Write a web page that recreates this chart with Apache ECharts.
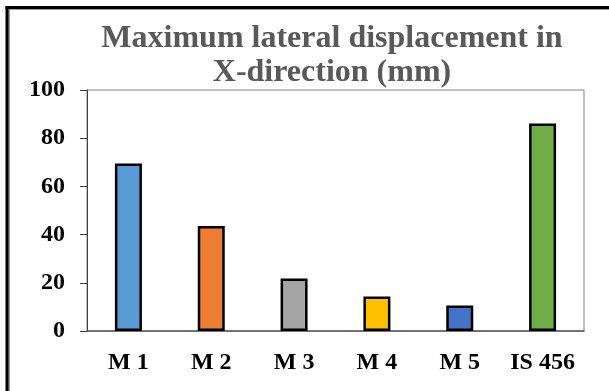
<!DOCTYPE html>
<html><head><meta charset="utf-8">
<script src="https://cdn.jsdelivr.net/npm/echarts@6/dist/echarts.min.js"></script>
<style>html,body{margin:0;padding:0;background:#fff}#c{width:609px;height:391px}</style>
</head><body><div id="c"></div>
<script>
const categories = ['M 1', 'M 2', 'M 3', 'M 4', 'M 5', 'IS 456'];
const values = [69.5, 43.6, 21.8, 14.3, 10.6, 86.1];
const barColors = ['#5B9BD5', '#ED7D31', '#A5A5A5', '#FFC000', '#4472C4', '#70AD47'];
const yTicks = { min: 0, max: 100, interval: 20 };
const titleText = 'Maximum lateral displacement in\nX-direction (mm)';

const chart = echarts.init(document.getElementById('c'), null, { renderer: 'canvas' });
const font = '"Liberation Serif", "Times New Roman", serif';
chart.setOption({
  animation: false,
  backgroundColor: '#fff',
  title: {
    text: titleText, left: 327, textAlign: 'center', top: 17,
    textStyle: { fontFamily: font, fontWeight: 'bold', fontSize: 32, color: '#595959', lineHeight: 34 }
  },
  grid: { left: 87, right: 25, top: 90, bottom: 60, show: true, borderColor: '#808080', borderWidth: 1 },
  xAxis: {
    type: 'category', data: categories,
    axisLine: { lineStyle: { color: '#595959', width: 1.5 } },
    axisTick: { show: false },
    axisLabel: { interval: 0, fontFamily: font, fontWeight: 'bold', fontSize: 24, color: '#000', margin: 20 }
  },
  yAxis: {
    type: 'value', min: yTicks.min, max: yTicks.max, interval: yTicks.interval,
    axisLine: { show: true, lineStyle: { color: '#404040', width: 1 } },
    axisTick: { show: true, length: 7, lineStyle: { color: '#404040' } },
    splitLine: { show: false },
    axisLabel: { fontFamily: font, fontWeight: 'bold', fontSize: 24, color: '#000', margin: 22 }
  },
  series: [{
    type: 'bar', barWidth: 27,
    data: values.map((v, i) => ({ value: v, itemStyle: { color: barColors[i] } })),
    itemStyle: { borderColor: '#000', borderWidth: 2.5 }
  }],
  graphic: [
    { type: 'line', shape: { x1: 7, y1: 9, x2: 609, y2: 9 }, style: { stroke: '#999', lineWidth: 2 }, z: 99 },
    { type: 'line', shape: { x1: 9, y1: 7, x2: 9, y2: 391 }, style: { stroke: '#999', lineWidth: 2 }, z: 99 },
    { type: 'line', shape: { x1: 5.5, y1: 7.5, x2: 609, y2: 7.5 }, style: { stroke: '#000', lineWidth: 3 }, z: 100 },
    { type: 'line', shape: { x1: 7, y1: 6, x2: 7, y2: 391 }, style: { stroke: '#000', lineWidth: 3 }, z: 100 }
  ]
});
</script></body></html>
